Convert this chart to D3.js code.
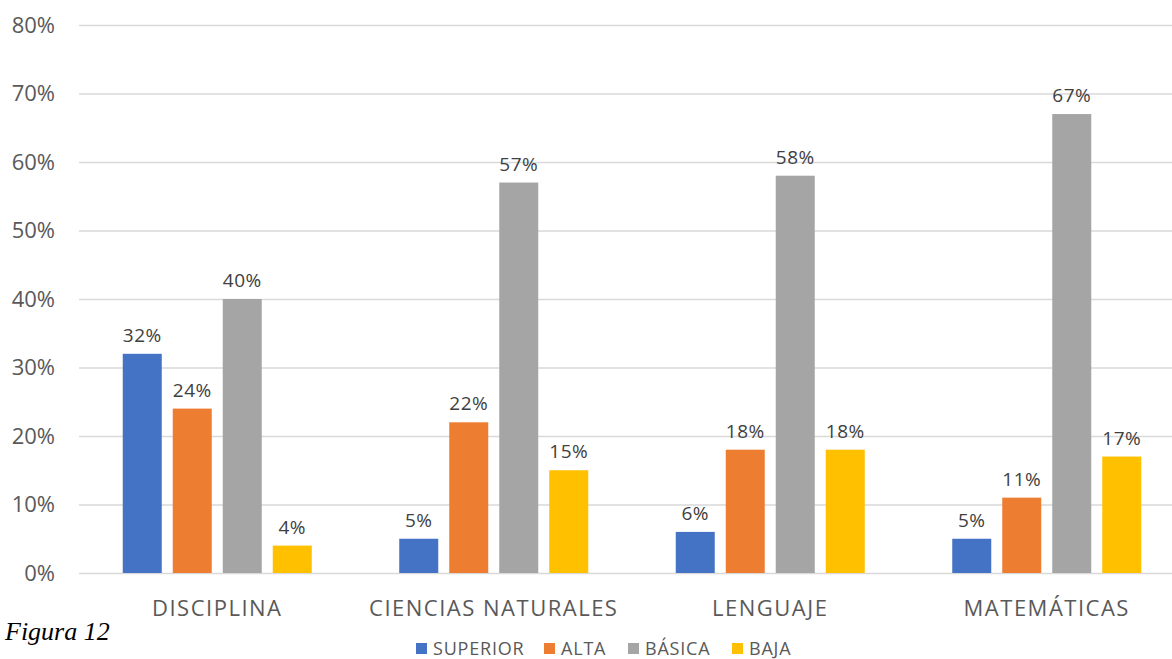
<!DOCTYPE html>
<html>
<head>
<meta charset="utf-8">
<script src="https://cdn.jsdelivr.net/npm/d3@7"></script>
<style>
  body { margin: 0; background: #fff; overflow: hidden; }
  svg { display: block; font-family: "Open Sans", sans-serif; }
</style>
</head>
<body>
<div id="chart"></div>
<script>
var categories = ["DISCIPLINA", "CIENCIAS NATURALES", "LENGUAJE", "MATEMÁTICAS"];
var seriesNames = ["SUPERIOR", "ALTA", "BÁSICA", "BAJA"];
var superior = [32, 5, 6, 5];
var alta = [24, 22, 18, 11];
var basica = [40, 57, 58, 67];
var baja = [4, 15, 18, 17];
var yTicks = [0, 10, 20, 30, 40, 50, 60, 70, 80];
var colors = ["#4472C4", "#ED7D31", "#A5A5A5", "#FFC000"];

var seriesValues = [superior, alta, basica, baja];
var data = categories.map(function (c, i) {
    return { cat: c, vals: seriesNames.map(function (s, j) { return { name: s, value: seriesValues[j][i] }; }) };
});

var svg = d3.select("#chart").append("svg").attr("width", 1172).attr("height", 659);

var x0 = d3.scaleBand().domain(categories).range([79, 1185]).padding(0);
var x1 = d3.scaleBand().domain(seriesNames).range([0, x0.bandwidth()])
    .paddingInner(0.22).paddingOuter(0.875);
var y = d3.scaleLinear().domain([0, 80]).range([573, 25]);
var z = d3.scaleOrdinal().domain(seriesNames).range(colors);

// gridlines
svg.append("g").selectAll("line")
    .data(yTicks)
    .enter().append("line")
    .attr("x1", 79).attr("x2", 1172)
    .attr("y1", function (d) { return y(d) + 0.5; })
    .attr("y2", function (d) { return y(d) + 0.5; })
    .attr("stroke", "#d9d9d9")
    .attr("stroke-width", 1.5);

// y labels
svg.append("g").selectAll("text")
    .data(yTicks)
    .enter().append("text")
    .attr("x", 55)
    .attr("y", function (d) { return y(d); })
    .attr("dy", "0.35em")
    .attr("text-anchor", "end")
    .attr("fill", "#595959")
    .style("font-size", "22px")
    .text(function (d) { return d + "%"; });

var groups = svg.selectAll(".gr")
    .data(data)
    .enter().append("g")
    .attr("class", "gr")
    .attr("transform", function (d) { return "translate(" + x0(d.cat) + ",0)"; });

groups.selectAll("rect")
    .data(function (d) { return d.vals; })
    .enter().append("rect")
    .attr("x", function (d) { return x1(d.name); })
    .attr("y", function (d) { return y(d.value); })
    .attr("width", x1.bandwidth())
    .attr("height", function (d) { return y(0) - y(d.value); })
    .attr("fill", function (d) { return z(d.name); });

groups.selectAll(".lbl")
    .data(function (d) { return d.vals; })
    .enter().append("text")
    .attr("class", "lbl")
    .attr("x", function (d) { return x1(d.name) + x1.bandwidth() / 2; })
    .attr("y", function (d) { return y(d.value) - 12; })
    .attr("text-anchor", "middle")
    .attr("fill", "#404040")
    .style("font-size", "19px")
    .style("letter-spacing", "0.5px")
    .text(function (d) { return d.value + "%"; });

// category labels
svg.append("g").selectAll("text")
    .data(categories)
    .enter().append("text")
    .attr("x", function (d) { return x0(d) + x0.bandwidth() / 2; })
    .attr("y", 616)
    .attr("text-anchor", "middle")
    .attr("fill", "#595959")
    .style("font-size", "22px")
    .style("letter-spacing", "1.5px")
    .text(function (d) { return d; });

// legend
var legendX = [416, 544, 628, 732];
var legend = svg.append("g").selectAll("g")
    .data(seriesNames)
    .enter().append("g")
    .attr("transform", function (d, i) { return "translate(" + legendX[i] + ",643)"; });
legend.append("rect")
    .attr("width", 11).attr("height", 11)
    .attr("fill", function (d) { return z(d); });
legend.append("text")
    .attr("x", 17).attr("y", 12)
    .attr("fill", "#595959")
    .style("font-size", "18px")
    .style("letter-spacing", "0.8px")
    .text(function (d) { return d; });

svg.append("text")
    .attr("x", 5).attr("y", 640)
    .style("font-family", "'Liberation Serif', 'Times New Roman', serif")
    .style("font-style", "italic")
    .style("font-size", "26px")
    .attr("fill", "#000")
    .text("Figura 12");
</script>
</body>
</html>
